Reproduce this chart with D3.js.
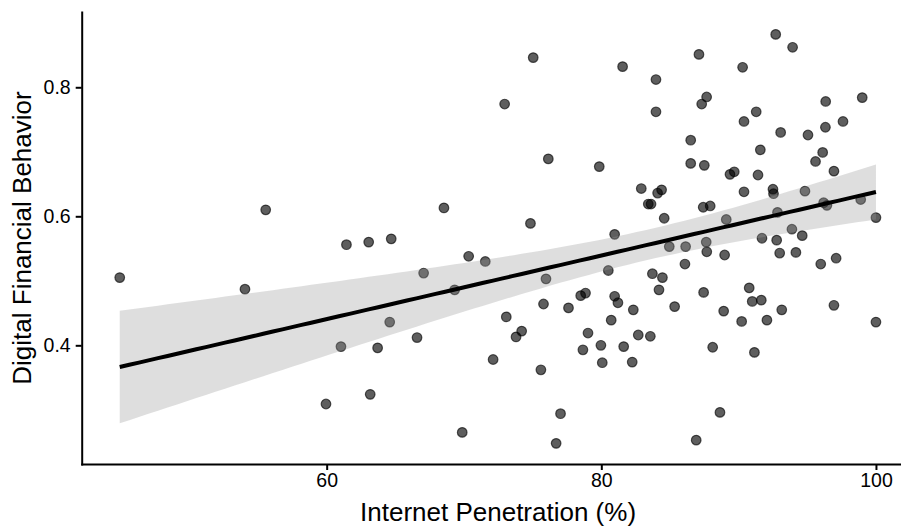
<!DOCTYPE html>
<html>
<meta charset="utf-8"/>
  <head>
   <title>Internet Penetration vs Digital Financial Behavior</title>
   <script src="https://d3js.org/d3.v7.min.js" charset="utf-8"></script>
   <style>
     body { margin: 0; background: #fff; }
     text { font-family: Arial, "Liberation Sans", sans-serif; }
   </style>
  </head>
<body>
  <script>
  // data (one entry per country)
  var internetPenetration = [
    44.93,54.05,55.56,59.95,61.04,61.44,63.06,63.17,63.71,64.59,
    64.70,66.58,67.06,68.54,69.32,69.87,70.34,71.55,72.12,72.96,
    73.08,73.79,74.20,74.84,75.04,75.60,75.79,75.97,76.14,76.71,
    77.03,77.61,78.50,78.85,78.66,79.03,79.85,79.97,80.07,80.51,
    80.72,80.97,80.97,81.21,81.55,81.63,82.25,82.33,82.69,82.91,
    83.42,83.62,83.57,83.72,83.98,83.98,84.10,84.20,84.39,84.45,
    84.58,84.95,85.34,86.09,86.14,86.51,86.51,86.91,87.11,87.31,
    87.42,87.45,87.50,87.64,87.67,87.68,87.93,88.11,88.64,88.91,
    88.98,89.10,89.37,89.68,90.22,90.29,90.39,90.39,90.77,90.99,
    91.15,91.28,91.41,91.58,91.65,91.70,92.06,92.50,92.54,92.70,
    92.77,92.83,92.99,93.06,93.14,93.88,93.93,94.17,94.63,94.83,
    95.05,95.60,95.98,96.12,96.19,96.43,96.32,96.34,96.94,96.94,
    97.10,97.60,98.89,99.00,100.0,100.0];
  var financialBehavior = [
    0.505,0.487,0.610,0.309,0.398,0.556,0.560,0.324,0.396,0.436,
    0.565,0.412,0.512,0.613,0.486,0.265,0.538,0.530,0.378,0.774,
    0.444,0.413,0.422,0.589,0.846,0.362,0.464,0.503,0.689,0.248,
    0.294,0.458,0.477,0.481,0.393,0.419,0.677,0.400,0.373,0.516,
    0.439,0.572,0.476,0.466,0.832,0.398,0.374,0.455,0.416,0.643,
    0.619,0.619,0.414,0.511,0.812,0.762,0.636,0.486,0.641,0.505,
    0.597,0.553,0.460,0.526,0.553,0.718,0.682,0.253,0.851,0.774,
    0.614,0.482,0.679,0.560,0.785,0.545,0.616,0.397,0.296,0.453,
    0.540,0.595,0.665,0.669,0.437,0.831,0.747,0.638,0.489,0.468,
    0.389,0.762,0.664,0.703,0.470,0.566,0.439,0.642,0.635,0.882,
    0.563,0.606,0.543,0.730,0.455,0.580,0.862,0.544,0.570,0.639,
    0.726,0.685,0.526,0.699,0.621,0.617,0.738,0.778,0.670,0.462,
    0.535,0.747,0.626,0.784,0.598,0.436];
  var xTicks = [60, 80, 100];
  var yTicks = [0.4, 0.6, 0.8];
  var xLabel = "Internet Penetration (%)";
  var yLabel = "Digital Financial Behavior";

  var width = 901, height = 527;
  var panel = {left: 81.7, right: 914.4, top: 12, bottom: 464};

  var svg = d3.select("body").append("svg")
      .attr("width", width)
      .attr("height", height);

  var x = d3.scaleLinear().domain([42.16, 102.8]).range([panel.left, panel.right]);
  var y = d3.scaleLinear().domain([0.216, 0.9167]).range([panel.bottom, panel.top]);

  var points = internetPenetration.map(function(d, i){
    return {x: d, y: financialBehavior[i]};
  });

  // linear fit with 95% confidence band (like geom_smooth(method="lm"))
  var n = points.length;
  var mx = d3.mean(points, function(d){ return d.x; });
  var my = d3.mean(points, function(d){ return d.y; });
  var sxx = d3.sum(points, function(d){ return (d.x - mx) * (d.x - mx); });
  var sxy = d3.sum(points, function(d){ return (d.x - mx) * (d.y - my); });
  var slope = sxy / sxx;
  var intercept = my - slope * mx;
  var rss = d3.sum(points, function(d){ var r = d.y - (intercept + slope * d.x); return r * r; });
  var se = Math.sqrt(rss / (n - 2));
  var tval = 1.979;

  var xmin = d3.min(internetPenetration), xmax = d3.max(internetPenetration);
  var fit = d3.range(80).map(function(i){
    var xv = xmin + (xmax - xmin) * i / 79;
    var yh = intercept + slope * xv;
    var half = tval * se * Math.sqrt(1 / n + (xv - mx) * (xv - mx) / sxx);
    return {x: xv, y: yh, lo: yh - half, hi: yh + half};
  });

  // points first, ribbon over them
  svg.append("g").selectAll("circle")
    .data(points)
    .enter().append("circle")
    .attr("cx", function(d){ return x(d.x); })
    .attr("cy", function(d){ return y(d.y); })
    .attr("r", 4.8)
    .style("fill", "#000")
    .style("fill-opacity", 0.63)
    .style("stroke", "#000")
    .style("stroke-opacity", 0.63)
    .style("stroke-width", 1.2);

  svg.append("path")
    .datum(fit)
    .attr("d", d3.area()
      .x(function(d){ return x(d.x); })
      .y0(function(d){ return y(d.lo); })
      .y1(function(d){ return y(d.hi); }))
    .style("fill", "#999999")
    .style("fill-opacity", 0.32);

  svg.append("path")
    .datum(fit)
    .attr("d", d3.line()
      .x(function(d){ return x(d.x); })
      .y(function(d){ return y(d.y); }))
    .style("fill", "none")
    .style("stroke", "#000")
    .style("stroke-width", 4);

  // axes
  var xAxis = svg.append("g")
    .attr("transform", "translate(0," + panel.bottom + ")")
    .call(d3.axisBottom(x).tickValues(xTicks).tickSizeInner(6).tickSizeOuter(0).tickPadding(3).tickFormat(d3.format("d")));
  var yAxis = svg.append("g")
    .attr("transform", "translate(" + panel.left + ",0)")
    .call(d3.axisLeft(y).tickValues(yTicks).tickSizeInner(6).tickSizeOuter(0).tickPadding(5).tickFormat(d3.format(".1f")));

  [xAxis, yAxis].forEach(function(ax){
    ax.select(".domain").style("stroke", "#000").style("stroke-width", 2).style("stroke-linecap", "square");
    ax.selectAll(".tick line").style("stroke", "#000").style("stroke-width", 2);
    ax.selectAll(".tick text")
      .style("fill", "#000")
      .style("font-size", "19.5px")
      .style("font-family", "Arial, 'Liberation Sans', sans-serif");
  });

  svg.append("text")
    .attr("x", (panel.left + panel.right) / 2)
    .attr("y", 521)
    .attr("text-anchor", "middle")
    .style("font-size", "26px")
    .style("fill", "#000")
    .text(xLabel);

  svg.append("text")
    .attr("transform", "translate(31," + (panel.top + panel.bottom) / 2 + ") rotate(-90)")
    .attr("text-anchor", "middle")
    .style("font-size", "26px")
    .style("fill", "#000")
    .text(yLabel);
  </script>
 </body>
</html>
